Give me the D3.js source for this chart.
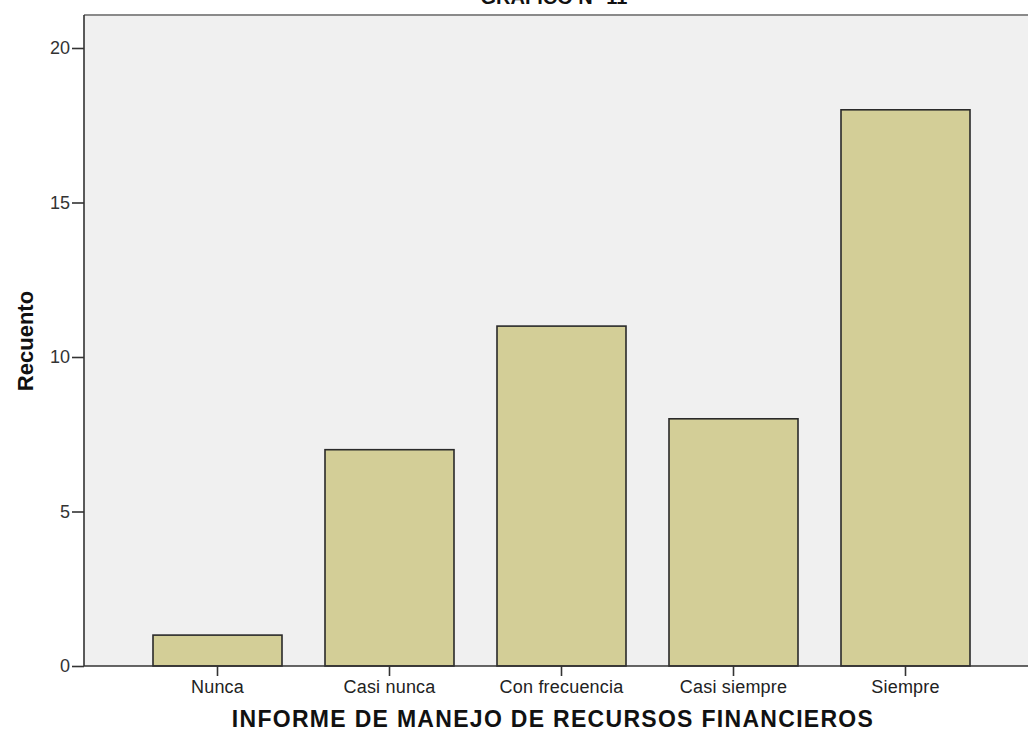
<!DOCTYPE html>
<html>
<head>
<meta charset="utf-8">
<script src="https://cdn.jsdelivr.net/npm/d3@7"></script>
<style>
  html, body { margin: 0; padding: 0; background: #fff; }
  svg { display: block; font-family: "Liberation Sans", Arial, sans-serif; }
</style>
</head>
<body>
<svg id="chart" width="1028" height="731"></svg>
<script>
// Response categories and their counts
const categories = ["Nunca", "Casi nunca", "Con frecuencia", "Casi siempre", "Siempre"];
const counts = [1, 7, 11, 8, 18];
const yTicks = [0, 5, 10, 15, 20];

const chartTitle = "GRAFICO N° 11";
const xTitle = "INFORME DE MANEJO DE RECURSOS FINANCIEROS";
const yTitle = "Recuento";

const svg = d3.select("#chart");

// plot frame
const frame = { left: 84, top: 15, right: 1040, bottom: 666 };

svg.append("rect")
  .attr("x", frame.left).attr("y", frame.top)
  .attr("width", frame.right - frame.left).attr("height", frame.bottom - frame.top)
  .attr("fill", "#f0f0f0");

svg.append("line")
  .attr("x1", frame.left).attr("x2", frame.right)
  .attr("y1", frame.top).attr("y2", frame.top)
  .attr("stroke", "#8a8a8a").attr("stroke-width", 2);

const y = d3.scaleLinear().domain([0, 20]).range([frame.bottom, 48]);
const x = d3.scaleBand().domain(categories).range([131.5, 991.5])
  .paddingInner(0.25).paddingOuter(0.125);

// bars
svg.append("g").selectAll("rect")
  .data(categories)
  .join("rect")
  .attr("x", d => x(d))
  .attr("y", (d, i) => y(counts[i]))
  .attr("width", x.bandwidth())
  .attr("height", (d, i) => y(0) - y(counts[i]))
  .attr("fill", "#d3ce97")
  .attr("stroke", "#2a2a2a")
  .attr("stroke-width", 1.6);

// y axis
const yAxis = d3.axisLeft(y).tickValues(yTicks).tickSize(12).tickPadding(2).tickFormat(d3.format("d"));
const gy = svg.append("g").attr("transform", `translate(${frame.left},0)`).call(yAxis);
gy.select(".domain").attr("d", `M0,${frame.top}V${frame.bottom}`).attr("stroke", "#333").attr("stroke-width", 1.6);
gy.selectAll(".tick line").attr("stroke", "#333").attr("stroke-width", 1.6);
gy.selectAll(".tick text").attr("font-size", 18).attr("fill", "#333")
  .attr("font-family", "\"Liberation Sans\", Arial, sans-serif");

// x axis
const xAxis = d3.axisBottom(x).tickSize(10).tickPadding(4);
const gx = svg.append("g").attr("transform", `translate(0,${frame.bottom})`).call(xAxis);
gx.select(".domain").attr("d", `M${frame.left},0H${frame.right}`).attr("stroke", "#333").attr("stroke-width", 1.6);
gx.selectAll(".tick line").attr("stroke", "#333").attr("stroke-width", 1.6);
gx.selectAll(".tick text").attr("font-size", 18).attr("fill", "#222")
  .attr("letter-spacing", 0.2)
  .attr("font-family", "\"Liberation Sans\", Arial, sans-serif");

// titles
svg.append("text")
  .attr("x", 554).attr("y", 4)
  .attr("text-anchor", "middle")
  .attr("font-size", 20).attr("font-weight", "bold").attr("fill", "#111")
  .text(chartTitle);

svg.append("text")
  .attr("x", 553).attr("y", 727)
  .attr("text-anchor", "middle")
  .attr("font-size", 23).attr("font-weight", "bold").attr("fill", "#111")
  .attr("letter-spacing", 1.3)
  .text(xTitle);

svg.append("text")
  .attr("transform", "translate(33,341) rotate(-90)")
  .attr("text-anchor", "middle")
  .attr("font-size", 22).attr("font-weight", "bold").attr("fill", "#111")
  .text(yTitle);
</script>
</body>
</html>
